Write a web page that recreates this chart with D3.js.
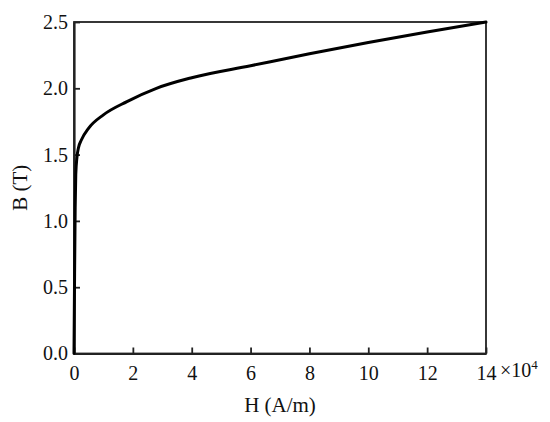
<!DOCTYPE html>
<html>
<head>
<meta charset="utf-8">
<script src="https://cdn.jsdelivr.net/npm/d3@7"></script>
</head>
<body style="margin:0">
<svg id="chart" width="550" height="422"></svg>
<script>
// Magnetisation (B-H) curve; H in units of 10^4 A/m
const H = [0, 0.02, 0.04, 0.06, 0.1, 0.15, 0.25, 0.5, 1.0, 1.8, 2.8, 4.0, 6.0, 8.0, 10.0, 12.0, 14.0];
const B = [0, 0.6, 1.1, 1.35, 1.48, 1.55, 1.61, 1.7, 1.8, 1.9, 2.0, 2.08, 2.17, 2.26, 2.345, 2.425, 2.5];
const xTicks = [0, 2, 4, 6, 8, 10, 12, 14];
const yTicks = [0, 0.5, 1.0, 1.5, 2.0, 2.5];
const xTitle = "H (A/m)";
const yTitle = "B (T)";

const FONT = '"Liberation Serif"';
const svg = d3.select("#chart");
const m = { left: 74, right: 64, top: 22, bottom: 68.5 };
const W = 550, Hh = 422;
const x = d3.scaleLinear().domain([0, 14]).range([m.left, W - m.right]);
const y = d3.scaleLinear().domain([0, 2.5]).range([Hh - m.bottom, m.top]);

svg.append("rect")
  .attr("x", x(0)).attr("y", y(2.5))
  .attr("width", x(14) - x(0)).attr("height", y(0) - y(2.5))
  .attr("fill", "none").attr("stroke", "#222").attr("stroke-width", 1.8);

const xAxis = svg.append("g")
  .attr("transform", `translate(0,${y(0)})`)
  .call(d3.axisBottom(x).tickValues(xTicks).tickFormat(d3.format("d")).tickSizeInner(-6).tickSizeOuter(0).tickPadding(12));
const yAxis = svg.append("g")
  .attr("transform", `translate(${x(0)},0)`)
  .call(d3.axisLeft(y).tickValues(yTicks).tickFormat(d3.format(".1f")).tickSizeInner(-6).tickSizeOuter(0).tickPadding(6));

[xAxis, yAxis].forEach(g => {
  g.attr("font-family", null).attr("font-size", null);
  g.select(".domain").attr("stroke", "#222").attr("stroke-width", 2.2);
  g.selectAll(".tick line").attr("stroke", "#222").attr("stroke-width", 1.8);
  g.selectAll(".tick text").style("font-family", FONT).style("font-size", "20px").attr("fill", "#111");
});

const line = d3.line().x((d, i) => x(H[i])).y((d, i) => y(B[i])).curve(d3.curveMonotoneX);
svg.append("path").datum(B).attr("d", line)
  .attr("fill", "none").attr("stroke", "#000").attr("stroke-width", 3)
  .attr("stroke-linejoin", "round").attr("stroke-linecap", "round");

const mult = svg.append("text").attr("x", x(14) + 14).attr("y", y(0) + 23)
  .style("font-family", FONT).style("font-size", "20px").attr("fill", "#111");
mult.append("tspan").text("×10");
mult.append("tspan").style("font-size", "13px").attr("dy", -8).text("4");

svg.append("text").attr("x", (x(0) + x(14)) / 2).attr("y", 412)
  .attr("text-anchor", "middle").style("font-family", FONT).style("font-size", "21px").attr("fill", "#111").text(xTitle);
svg.append("text").attr("transform", `translate(27,${(y(0) + y(2.5)) / 2}) rotate(-90)`)
  .attr("text-anchor", "middle").style("font-family", FONT).style("font-size", "21px").attr("fill", "#111").text(yTitle);
</script>
</body>
</html>
